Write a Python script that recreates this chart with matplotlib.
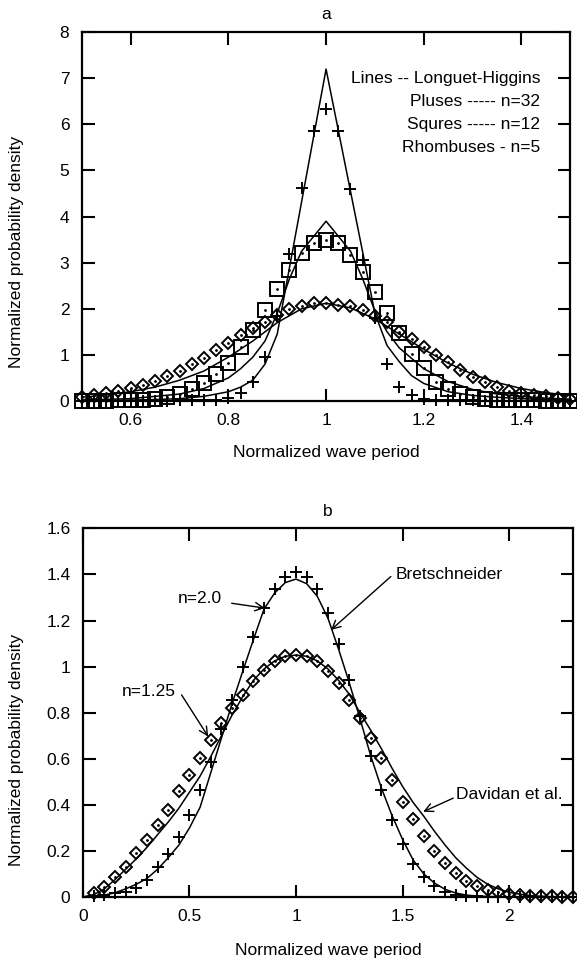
import matplotlib
matplotlib.use("Agg")
import matplotlib.pyplot as plt

plt.rcParams['font.family'] = ['Liberation Sans', 'DejaVu Sans']
FS = 12.5

# ---------------- Panel a data ----------------
xa = [0.5, 0.525, 0.55, 0.575, 0.6, 0.625, 0.65, 0.675, 0.7, 0.725, 0.75, 0.775, 0.8,
      0.825, 0.85, 0.875, 0.9, 0.925, 0.95, 0.975, 1.0, 1.025, 1.05, 1.075, 1.1, 1.125,
      1.15, 1.175, 1.2, 1.225, 1.25, 1.275, 1.3, 1.325, 1.35, 1.375, 1.4, 1.425, 1.45,
      1.475, 1.5]
plus_n32 = [0.0, 0.0, 0.0, 0.0, 0.0, 0.0, 0.0, 0.0, 0.01, 0.01, 0.02, 0.03, 0.06,
            0.17, 0.42, 0.96, 1.85, 3.19, 4.63, 5.85, 6.33, 5.85, 4.6, 3.06, 1.8, 0.8,
            0.31, 0.13, 0.05, 0.03, 0.02, 0.01, 0.01, 0.0, 0.0, 0.0, 0.0, 0.0, 0.0,
            0.0, 0.0]
square_n12 = [0.0, 0.0, 0.0, 0.01, 0.01, 0.02, 0.04, 0.08, 0.15, 0.25, 0.40, 0.59, 0.83,
              1.18, 1.54, 1.97, 2.42, 2.84, 3.2, 3.42, 3.49, 3.42, 3.17, 2.8, 2.37, 1.9,
              1.48, 1.02, 0.71, 0.42, 0.27, 0.15, 0.09, 0.05, 0.03, 0.02, 0.01, 0.01, 0.0,
              0.0, 0.0]
rhomb_n5 = [0.08, 0.13, 0.17, 0.22, 0.28, 0.35, 0.44, 0.54, 0.66, 0.80, 0.93, 1.11, 1.25,
            1.43, 1.58, 1.72, 1.87, 1.99, 2.06, 2.12, 2.13, 2.08, 2.05, 1.97, 1.84, 1.72,
            1.50, 1.34, 1.18, 1.0, 0.85, 0.67, 0.53, 0.42, 0.31, 0.22, 0.17, 0.13, 0.10,
            0.07, 0.05]

# Longuet-Higgins curves (vertices)
lh32_x = [0.5, 0.55, 0.6, 0.65, 0.7, 0.75, 0.8, 0.825, 0.85, 0.875, 0.9, 1.0, 1.1, 1.125,
          1.15, 1.175, 1.2, 1.25, 1.3, 1.35, 1.4, 1.45, 1.5]
lh32_y = [0.01, 0.01, 0.02, 0.03, 0.05, 0.1, 0.2, 0.3, 0.45, 0.8, 1.45, 7.2, 1.9, 1.2,
          0.85, 0.55, 0.38, 0.2, 0.12, 0.08, 0.05, 0.03, 0.02]
lh12_x = [0.5, 0.6, 0.7, 0.75, 0.8, 0.825, 0.85, 0.875, 0.9, 0.925, 0.95, 1.0, 1.05, 1.075,
          1.1, 1.125, 1.15, 1.2, 1.25, 1.3, 1.35, 1.4, 1.45, 1.5]
lh12_y = [0.02, 0.05, 0.15, 0.27, 0.5, 0.7, 0.95, 1.3, 1.9, 2.65, 3.25, 3.9, 3.25, 2.65,
          1.95, 1.5, 1.15, 0.7, 0.42, 0.25, 0.15, 0.1, 0.06, 0.04]
lh5_x = [0.5, 0.55, 0.6, 0.65, 0.7, 0.75, 0.8, 0.85, 0.9, 0.95, 1.0, 1.05, 1.1, 1.15, 1.2,
         1.25, 1.3, 1.35, 1.4, 1.45, 1.5]
lh5_y = [0.08, 0.13, 0.2, 0.3, 0.45, 0.65, 0.95, 1.3, 1.7, 2.0, 2.12, 2.02, 1.78, 1.45,
         1.12, 0.82, 0.58, 0.4, 0.27, 0.18, 0.12]

legend_a = ["Lines -- Longuet-Higgins", "Pluses ----- n=32",
            "Squres ----- n=12", "Rhombuses - n=5"]
xticks_a = [0.6, 0.8, 1.0, 1.2, 1.4]
xticklabels_a = ["0.6", "0.8", "1", "1.2", "1.4"]
yticks_a = [0, 1, 2, 3, 4, 5, 6, 7, 8]

# ---------------- Panel b data ----------------
xb = [0.05, 0.1, 0.15, 0.2, 0.25, 0.3, 0.35, 0.4, 0.45, 0.5, 0.55, 0.6, 0.65, 0.7, 0.75,
      0.8, 0.85, 0.9, 0.95, 1.0, 1.05, 1.1, 1.15, 1.2, 1.25, 1.3, 1.35, 1.4, 1.45, 1.5,
      1.55, 1.6, 1.65, 1.7, 1.75, 1.8, 1.85, 1.9, 1.95, 2.0, 2.05, 2.1, 2.15, 2.2, 2.25,
      2.3]
plus_n2 = [0.005, 0.009, 0.016, 0.023, 0.038, 0.074, 0.129, 0.187, 0.262, 0.357, 0.465,
           0.588, 0.729, 0.857, 0.999, 1.129, 1.255, 1.335, 1.39, 1.41, 1.39, 1.335,
           1.233, 1.10, 0.943, 0.784, 0.61, 0.465, 0.335, 0.23, 0.143, 0.086, 0.048,
           0.023, 0.01, 0.005, 0.002, 0.0, 0.0, 0.0, 0.0, 0.0, 0.0, 0.0, 0.0, 0.0]
rhomb_n125 = [0.016, 0.045, 0.088, 0.132, 0.19, 0.248, 0.313, 0.378, 0.458, 0.53, 0.603,
              0.68, 0.755, 0.82, 0.878, 0.936, 0.987, 1.023, 1.045, 1.052, 1.045, 1.023,
              0.98, 0.93, 0.857, 0.777, 0.69, 0.603, 0.509, 0.414, 0.34, 0.265, 0.2,
              0.146, 0.103, 0.068, 0.046, 0.03, 0.02, 0.012, 0.008, 0.005, 0.003, 0.002,
              0.001, 0.0]
curve_x = [0.0, 0.05, 0.1, 0.15, 0.2, 0.25, 0.3, 0.35, 0.4, 0.45, 0.5, 0.55, 0.6, 0.65,
           0.7, 0.75, 0.8, 0.85, 0.9, 0.95, 1.0, 1.05, 1.1, 1.15, 1.2, 1.25, 1.3, 1.35,
           1.4, 1.45, 1.5, 1.55, 1.6, 1.65, 1.7, 1.75, 1.8, 1.85, 1.9, 1.95, 2.0, 2.05,
           2.1, 2.15, 2.2, 2.25, 2.3]
bretschneider = [0.0, 0.002, 0.008, 0.018, 0.035, 0.055, 0.08, 0.12, 0.17, 0.225, 0.3,
                 0.39, 0.54, 0.69, 0.84, 0.98, 1.117, 1.25, 1.32, 1.365, 1.38, 1.36,
                 1.305, 1.21, 1.075, 0.93, 0.775, 0.615, 0.475, 0.355, 0.25, 0.16, 0.1,
                 0.06, 0.033, 0.017, 0.008, 0.004, 0.002, 0.001, 0.0, 0.0, 0.0, 0.0, 0.0,
                 0.0, 0.0]
davidan = [0.0, 0.01, 0.035, 0.075, 0.12, 0.165, 0.215, 0.27, 0.325, 0.385, 0.455, 0.525,
           0.61, 0.7, 0.79, 0.87, 0.94, 0.99, 1.025, 1.045, 1.05, 1.045, 1.025, 0.99, 0.94,
           0.88, 0.8, 0.725, 0.645, 0.56, 0.48, 0.41, 0.35, 0.285, 0.225, 0.17, 0.125,
           0.085, 0.055, 0.035, 0.02, 0.012, 0.006, 0.003, 0.001, 0.0, 0.0]
xticks_b = [0, 0.5, 1.0, 1.5, 2.0]
xticklabels_b = ["0", "0.5", "1", "1.5", "2"]
yticks_b = [0, 0.2, 0.4, 0.6, 0.8, 1.0, 1.2, 1.4, 1.6]
yticklabels_b = ["0", "0.2", "0.4", "0.6", "0.8", "1", "1.2", "1.4", "1.6"]

# ---------------- Figure ----------------
fig = plt.figure(figsize=(5.77, 9.59), dpi=100)
axa = fig.add_axes([0.1418, 0.5819, 0.8466, 0.3845])
axb = fig.add_axes([0.1438, 0.0647, 0.8492, 0.3843])

def style_axes(ax):
    for s in ax.spines.values():
        s.set_linewidth(1.6)
    ax.tick_params(direction='in', length=9, width=1.5, top=True, right=True,
                   labelsize=FS, pad=9)

LW = 1.1
MEW = 1.4
# Panel a
axa.plot(lh32_x, lh32_y, color='k', lw=LW)
axa.plot(lh12_x, lh12_y, color='k', lw=LW)
axa.plot(lh5_x, lh5_y, color='k', lw=LW)
axa.plot(xa, rhomb_n5, ls='none', marker='D', ms=6.5, mfc='none', mec='k', mew=MEW, clip_on=False)
axa.plot(xa, square_n12, ls='none', marker='s', ms=9.5, mfc='none', mec='k', mew=MEW, clip_on=False)
axa.plot(xa, plus_n32, ls='none', marker='+', ms=9.0, mec='k', mew=MEW, clip_on=False)
axa.plot(xa, rhomb_n5, ls='none', marker='o', ms=1.0, color='k', clip_on=False)
axa.plot(xa, square_n12, ls='none', marker='o', ms=1.0, color='k', clip_on=False)
axa.set_xlim(0.5, 1.5)
axa.set_ylim(0, 8)
axa.set_xticks(xticks_a)
axa.set_xticklabels(xticklabels_a)
axa.set_yticks(yticks_a)
style_axes(axa)
axa.set_xlabel("Normalized wave period", fontsize=FS)
axa.xaxis.set_label_coords(0.5, -0.141)
axa.xaxis.label.set_va('center')
axa.set_ylabel("Normalized probability density", fontsize=FS)
axa.yaxis.set_label_coords(-0.133, 0.404)
axa.yaxis.label.set_va('center')
axa.text(0.5, 1.047, "a", transform=axa.transAxes, ha='center', va='center', fontsize=FS)
for txt, yy in zip(legend_a, [0.8733, 0.8118, 0.7505, 0.6870]):
    axa.text(0.9386, yy, txt, transform=axa.transAxes, ha='right', va='center', fontsize=FS)

# Panel b
axb.plot(curve_x, bretschneider, color='k', lw=LW)
axb.plot(curve_x, davidan, color='k', lw=LW)
axb.plot(xb, rhomb_n125, ls='none', marker='D', ms=6.5, mfc='none', mec='k', mew=MEW, clip_on=False)
axb.plot(xb, plus_n2, ls='none', marker='+', ms=9.0, mec='k', mew=MEW, clip_on=False)
axb.plot(xb, rhomb_n125, ls='none', marker='o', ms=1.0, color='k', clip_on=False)
axb.set_xlim(0, 2.3)
axb.set_ylim(0, 1.6)
axb.set_xticks(xticks_b)
axb.set_xticklabels(xticklabels_b)
axb.set_yticks(yticks_b)
axb.set_yticklabels(yticklabels_b)
style_axes(axb)
axb.set_xlabel("Normalized wave period", fontsize=FS)
axb.xaxis.set_label_coords(0.5, -0.144)
axb.xaxis.label.set_va('center')
axb.set_ylabel("Normalized probability density", fontsize=FS)
axb.yaxis.set_label_coords(-0.135, 0.40)
axb.yaxis.label.set_va('center')
axb.text(0.5, 1.046, "b", transform=axb.transAxes, ha='center', va='center', fontsize=FS)

ap = dict(arrowstyle='->', lw=1.0, color='k', mutation_scale=15, shrinkA=0, shrinkB=0)
axb.text(1.467, 1.398, "Bretschneider", ha='left', va='center', fontsize=FS)
axb.annotate("", xy=(1.164, 1.159), xytext=(1.445, 1.391), arrowprops=ap)
axb.text(0.447, 1.297, "n=2.0", ha='left', va='center', fontsize=FS)
axb.annotate("", xy=(0.854, 1.254), xytext=(0.698, 1.275), arrowprops=ap)
axb.text(0.182, 0.891, "n=1.25", ha='left', va='center', fontsize=FS)
axb.annotate("", xy=(0.588, 0.696), xytext=(0.463, 0.877), arrowprops=ap)
axb.text(1.752, 0.443, "Davidan et al.", ha='left', va='center', fontsize=FS)
axb.annotate("", xy=(1.597, 0.370), xytext=(1.738, 0.429), arrowprops=ap)

fig.savefig("out.png", dpi=100)
